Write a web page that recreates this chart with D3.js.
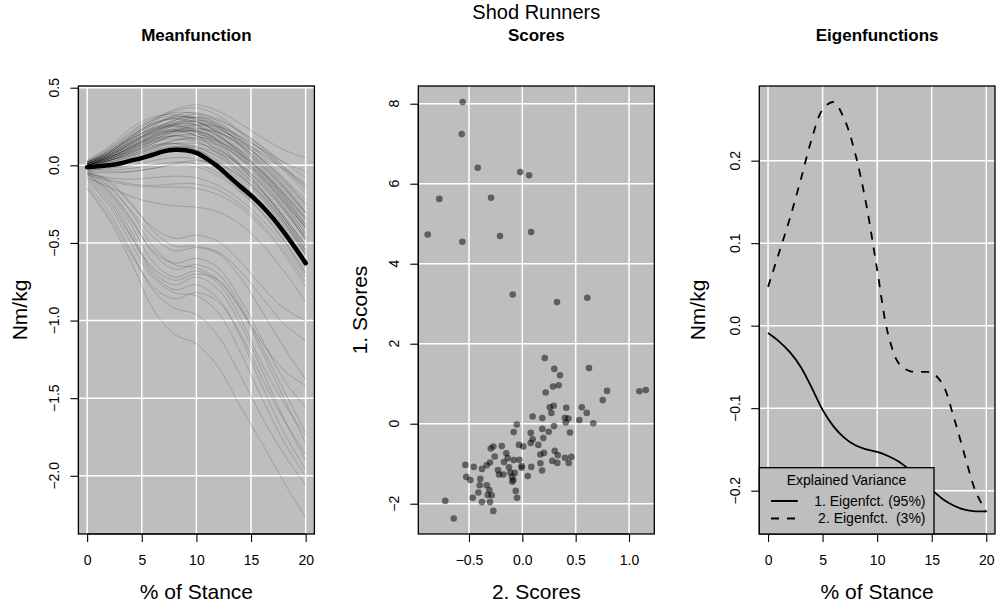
<!DOCTYPE html>
<html><head><meta charset="utf-8">
<script src="https://cdn.jsdelivr.net/npm/d3@7"></script>
<style>
body{margin:0;background:#fff}
svg{display:block}
text{font-family:"Liberation Sans",Arial,Helvetica,sans-serif;fill:#000}
</style>
</head><body>
<svg id="c" width="996" height="609"></svg>
<script>
// ---------------- DATA ----------------
const stanceGrid = [0,2,4,6,8,10,12,14,16,18,20];
const runnerCurves = [
 [0.02,0.10,0.20,0.29,0.36,0.39,0.35,0.27,0.18,0.10,0.05],
 [0.01,0.08,0.18,0.28,0.35,0.37,0.32,0.22,0.12,0.02,-0.08],
 [0.03,0.12,0.24,0.31,0.33,0.30,0.24,0.16,0.08,-0.02,-0.12],
 [0.00,0.06,0.14,0.22,0.29,0.33,0.30,0.21,0.10,-0.03,-0.18],
 [0.01,0.07,0.16,0.25,0.32,0.34,0.28,0.17,0.04,-0.10,-0.26],
 [0.02,0.09,0.19,0.27,0.31,0.30,0.25,0.18,0.10,0.02,-0.04],
 [0.00,0.05,0.12,0.20,0.27,0.31,0.29,0.22,0.12,-0.01,-0.16],
 [-0.01,0.04,0.11,0.19,0.26,0.29,0.26,0.16,0.03,-0.13,-0.30],
 [0.01,0.08,0.17,0.24,0.28,0.28,0.22,0.12,0.00,-0.14,-0.30],
 [0.02,0.09,0.18,0.26,0.30,0.28,0.21,0.10,-0.03,-0.18,-0.34],
 [0.00,0.06,0.13,0.21,0.27,0.28,0.24,0.15,0.04,-0.10,-0.25],
 [0.01,0.07,0.15,0.22,0.26,0.25,0.19,0.09,-0.04,-0.19,-0.36],
 [-0.01,0.03,0.09,0.16,0.22,0.26,0.25,0.19,0.10,-0.01,-0.13],
 [0.00,0.05,0.12,0.19,0.24,0.26,0.22,0.13,0.01,-0.14,-0.31],
 [0.02,0.10,0.21,0.29,0.32,0.29,0.20,0.07,-0.08,-0.24,-0.40],
 [0.01,0.06,0.14,0.21,0.25,0.23,0.16,0.05,-0.08,-0.23,-0.40],
 [0.00,0.04,0.10,0.17,0.22,0.24,0.21,0.13,0.02,-0.12,-0.28],
 [0.01,0.07,0.16,0.23,0.27,0.26,0.19,0.08,-0.06,-0.22,-0.42],
 [0.00,0.05,0.11,0.18,0.23,0.24,0.19,0.09,-0.04,-0.20,-0.38],
 [-0.01,0.03,0.08,0.14,0.20,0.23,0.21,0.14,0.04,-0.09,-0.24],
 [0.01,0.06,0.13,0.19,0.23,0.22,0.16,0.06,-0.07,-0.24,-0.44],
 [0.02,0.08,0.17,0.24,0.26,0.22,0.13,0.01,-0.13,-0.29,-0.47],
 [0.00,0.04,0.10,0.16,0.21,0.22,0.18,0.10,-0.01,-0.16,-0.33],
 [0.00,0.05,0.12,0.18,0.22,0.21,0.15,0.04,-0.10,-0.27,-0.46],
 [0.01,0.06,0.14,0.20,0.22,0.19,0.11,0.00,-0.13,-0.29,-0.48],
 [-0.01,0.03,0.08,0.14,0.19,0.20,0.16,0.07,-0.05,-0.20,-0.38],
 [0.00,0.04,0.09,0.15,0.19,0.19,0.14,0.04,-0.09,-0.25,-0.44],
 [0.01,0.05,0.11,0.16,0.19,0.17,0.10,-0.01,-0.15,-0.32,-0.52],
 [0.02,0.07,0.15,0.21,0.23,0.19,0.09,-0.04,-0.19,-0.36,-0.55],
 [0.00,0.03,0.07,0.12,0.16,0.17,0.13,0.05,-0.07,-0.22,-0.40],
 [-0.01,0.02,0.06,0.11,0.16,0.18,0.15,0.07,-0.04,-0.18,-0.34],
 [0.00,0.04,0.10,0.15,0.17,0.15,0.08,-0.03,-0.17,-0.34,-0.54],
 [0.01,0.05,0.12,0.17,0.19,0.16,0.07,-0.06,-0.21,-0.38,-0.58],
 [0.00,0.03,0.07,0.11,0.14,0.14,0.10,0.01,-0.11,-0.27,-0.46],
 [-0.01,0.02,0.05,0.09,0.12,0.12,0.08,0.00,-0.12,-0.28,-0.48],
 [0.00,0.03,0.08,0.12,0.14,0.12,0.05,-0.06,-0.20,-0.37,-0.57],
 [0.01,0.04,0.09,0.13,0.14,0.10,0.02,-0.10,-0.25,-0.43,-0.63],
 [0.02,0.09,0.19,0.27,0.30,0.26,0.15,0.00,-0.16,-0.34,-0.52],
 [0.01,0.08,0.18,0.26,0.31,0.31,0.25,0.13,-0.02,-0.18,-0.35],
 [0.00,0.06,0.14,0.23,0.29,0.31,0.27,0.18,0.06,-0.08,-0.22],
 [0.03,0.11,0.22,0.30,0.34,0.33,0.26,0.14,0.00,-0.15,-0.31],
 [0.01,0.07,0.15,0.22,0.26,0.27,0.23,0.16,0.07,-0.03,-0.14],
 [0.00,0.05,0.11,0.18,0.22,0.22,0.17,0.08,-0.05,-0.21,-0.39],
 [0.02,0.08,0.17,0.23,0.25,0.21,0.12,-0.01,-0.16,-0.33,-0.51],
 [-0.02,0.01,0.04,0.08,0.11,0.11,0.06,-0.04,-0.17,-0.34,-0.55],
 [0.00,0.03,0.06,0.10,0.12,0.10,0.03,-0.08,-0.22,-0.40,-0.62],
 [-0.03,-0.02,0.00,0.03,0.05,0.04,-0.02,-0.12,-0.26,-0.44,-0.66],
 [-0.04,-0.05,-0.04,-0.02,0.00,-0.01,-0.07,-0.17,-0.31,-0.49,-0.70],
 [-0.05,-0.08,-0.09,-0.08,-0.07,-0.08,-0.13,-0.22,-0.35,-0.52,-0.72],
 [-0.06,-0.10,-0.13,-0.14,-0.14,-0.15,-0.19,-0.27,-0.40,-0.57,-0.78],
 [-0.02,-0.03,-0.02,0.00,0.02,0.01,-0.05,-0.16,-0.30,-0.48,-0.69],
 [-0.05,-0.09,-0.12,-0.13,-0.12,-0.12,-0.16,-0.25,-0.38,-0.55,-0.75],
 [-0.03,-0.04,-0.04,-0.02,0.01,0.03,0.01,-0.07,-0.19,-0.36,-0.57],
 [-0.08,-0.14,-0.20,-0.24,-0.26,-0.27,-0.30,-0.38,-0.51,-0.68,-0.88],
 [-0.15,-0.35,-0.62,-0.92,-1.09,-1.15,-1.30,-1.55,-1.79,-2.04,-2.27],
 [-0.12,-0.30,-0.55,-0.80,-0.92,-0.96,-1.10,-1.35,-1.62,-1.86,-2.06],
 [-0.10,-0.26,-0.50,-0.72,-0.82,-0.84,-0.95,-1.20,-1.50,-1.78,-2.00],
 [-0.08,-0.22,-0.45,-0.70,-0.80,-0.77,-0.86,-1.10,-1.42,-1.72,-1.96],
 [-0.07,-0.20,-0.42,-0.68,-0.77,-0.72,-0.80,-1.02,-1.32,-1.63,-1.90],
 [-0.14,-0.33,-0.57,-0.78,-0.86,-0.82,-0.88,-1.08,-1.37,-1.64,-1.86],
 [-0.06,-0.18,-0.38,-0.62,-0.72,-0.68,-0.76,-0.98,-1.28,-1.53,-1.74],
 [-0.09,-0.24,-0.46,-0.66,-0.74,-0.70,-0.74,-0.92,-1.20,-1.50,-1.79],
 [-0.05,-0.16,-0.34,-0.56,-0.67,-0.64,-0.70,-0.90,-1.17,-1.45,-1.72],
 [-0.06,-0.17,-0.35,-0.55,-0.63,-0.60,-0.66,-0.86,-1.12,-1.38,-1.56],
 [-0.04,-0.13,-0.30,-0.52,-0.64,-0.66,-0.74,-0.92,-1.14,-1.32,-1.42],
 [-0.05,-0.14,-0.29,-0.46,-0.55,-0.53,-0.57,-0.72,-0.94,-1.17,-1.38],
 [-0.03,-0.10,-0.24,-0.42,-0.52,-0.52,-0.56,-0.68,-0.85,-1.02,-1.13],
 [-0.04,-0.11,-0.25,-0.40,-0.47,-0.45,-0.49,-0.62,-0.78,-0.92,-1.00]
];
const fineGrid = [0,1,2,3,4,5,6,7,8,9,10,11,12,13,14,15,16,17,18,19,20];
const meanFunction = [-0.012,-0.006,0.000,0.012,0.030,0.046,0.068,0.090,0.100,0.097,0.080,0.040,-0.010,-0.073,-0.135,-0.195,-0.262,-0.340,-0.430,-0.527,-0.630];
const eigenfunction1 = [-0.009,-0.019,-0.032,-0.050,-0.075,-0.102,-0.122,-0.136,-0.145,-0.150,-0.153,-0.158,-0.165,-0.175,-0.187,-0.199,-0.210,-0.218,-0.223,-0.225,-0.225];
const eigenfunction2 = [0.047,0.088,0.130,0.177,0.226,0.262,0.271,0.250,0.208,0.147,0.068,-0.010,-0.046,-0.055,-0.056,-0.057,-0.071,-0.110,-0.156,-0.200,-0.226];
const scores2 = [-0.559,-0.568,-0.418,-0.019,0.063,-0.778,-0.293,-0.887,-0.562,-0.209,0.082,-0.090,0.609,0.325,
 0.210,0.625,0.300,0.353,0.288,0.341,0.794,1.097,1.157,0.219,0.754,0.294,0.257,0.412,0.557,0.272,0.604,0.097,0.187,0.400,0.431,0.407,0.534,0.665,0.187,0.297,0.447,0.400,0.459,0.435,-0.052,
 -0.081,0.079,0.197,0.247,0.097,0.079,0.150,-0.031,0.009,-0.272,-0.296,-0.193,0.203,0.169,0.304,0.332,0.281,0.328,-0.150,-0.259,-0.137,-0.081,-0.028,-0.172,-0.303,-0.334,-0.534,-0.455,-0.378,-0.228,-0.125,-0.006,-0.006,0.084,0.169,0.185,-0.112,-0.071,-0.218,-0.178,-0.097,-0.084,-0.094,0.051,-0.525,-0.487,-0.394,-0.399,-0.334,-0.309,-0.287,-0.324,-0.412,-0.465,-0.378,-0.303,-0.062,-0.050,-0.722,-0.643,-0.272];
const scores1 = [8.04,7.24,6.40,6.29,6.21,5.62,5.65,4.73,4.55,4.69,4.79,3.23,3.15,3.04,
 1.64,1.39,1.37,1.21,0.93,0.96,0.82,0.81,0.84,0.78,0.59,0.45,0.41,0.40,0.41,0.27,0.27,0.18,0.14,0.15,0.13,0.03,0.09,0.01,-0.13,-0.06,-0.22,-0.85,-0.83,-0.98,-0.02,
 -0.21,-0.23,-0.36,-0.20,-0.39,-0.48,-0.53,-0.53,-0.57,-0.57,-0.62,-0.56,-0.73,-0.77,-0.68,-0.79,-0.93,-0.98,-0.74,-0.82,-0.86,-0.91,-0.90,-0.96,-0.97,-1.04,-1.03,-1.08,-1.13,-1.16,-1.09,-1.06,-1.10,-1.08,-0.99,-1.17,-1.22,-1.23,-1.27,-1.27,-1.33,-1.41,-1.45,-1.31,-1.33,-1.41,-1.38,-1.54,-1.54,-1.66,-1.79,-1.78,-1.72,-1.85,-1.96,-1.96,-1.68,-1.85,-1.93,-2.37,-2.18];
const stanceTicks = [0,5,10,15,20];
const meanTicksY = [0.5,0.0,-0.5,-1.0,-1.5,-2.0];
const scoreTicksX = [-0.5,0.0,0.5,1.0];
const scoreTicksY = [-2,0,2,4,6,8];
const eigenTicksY = [-0.2,-0.1,0.0,0.1,0.2];
const legendTitle = "Explained Variance";
const legendLabels = ["1. Eigenfct. (95%)","2. Eigenfct.  (3%)"];

// ---------------- DRAW ----------------
const svg = d3.select("#c");
const BG = "#bebebe";

function panel(o){
  const g = svg.append("g");
  const x = d3.scaleLinear().domain(o.xd).range([o.l,o.r]);
  const y = d3.scaleLinear().domain(o.yd).range([o.b,o.t]);
  g.append("clipPath").attr("id","clip"+o.id).append("rect")
    .attr("x",o.l).attr("y",o.t).attr("width",o.r-o.l).attr("height",o.b-o.t);
  g.append("rect").attr("x",o.l).attr("y",o.t).attr("width",o.r-o.l).attr("height",o.b-o.t).attr("fill",BG);
  g.selectAll(null).data(o.xt).join("line")
    .attr("x1",d=>x(d)).attr("x2",d=>x(d)).attr("y1",o.t).attr("y2",o.b)
    .attr("stroke","#fff").attr("stroke-width",1.5);
  g.selectAll(null).data(o.yt).join("line")
    .attr("y1",d=>y(d)).attr("y2",d=>y(d)).attr("x1",o.l).attr("x2",o.r)
    .attr("stroke","#fff").attr("stroke-width",1.5);
  const plot = g.append("g").attr("clip-path",`url(#clip${o.id})`);
  const front = g.append("g");
  front.append("rect").attr("x",o.l).attr("y",o.t).attr("width",o.r-o.l).attr("height",o.b-o.t)
    .attr("fill","none").attr("stroke","#000").attr("stroke-width",1.3);
  const ax = front.append("g").attr("transform",`translate(0,${o.b})`)
    .call(d3.axisBottom(x).tickValues(o.xt).tickFormat(o.xf).tickSize(8).tickPadding(13.5));
  ax.select(".domain").remove();
  ax.selectAll("line").attr("stroke","#000").attr("stroke-width",1.1);
  ax.selectAll("text").attr("font-size",14).attr("font-family",null);
  ax.append("line").attr("x1",x(o.xt[0])).attr("x2",x(o.xt[o.xt.length-1])).attr("stroke","#000").attr("stroke-width",1.1);
  const ay = front.append("g").attr("transform",`translate(${o.l},0)`)
    .call(d3.axisLeft(y).tickValues(o.yt).tickFormat("").tickSize(8));
  ay.select(".domain").remove();
  ay.selectAll("line").attr("stroke","#000").attr("stroke-width",1.1);
  ay.append("line").attr("y1",y(d3.min(o.yt))).attr("y2",y(d3.max(o.yt))).attr("stroke","#000").attr("stroke-width",1.1);
  front.selectAll(null).data(o.yt).join("text")
    .attr("transform",d=>`translate(${o.l-19.5},${y(d)}) rotate(-90)`)
    .attr("text-anchor","middle").attr("font-size",14).text(o.yf);
  front.append("text").attr("x",(o.l+o.r)/2).attr("y",40.7).attr("text-anchor","middle")
    .attr("font-size",17).attr("font-weight","bold").text(o.title);
  front.append("text").attr("x",(o.l+o.r)/2).attr("y",599).attr("text-anchor","middle")
    .attr("font-size",21).text(o.xlab);
  front.append("text").attr("transform",`translate(${o.ylx},${(o.t+o.b)/2}) rotate(-90)`)
    .attr("text-anchor","middle").attr("font-size",21).text(o.ylab);
  return {x,y,plot,front};
}

// Panel 1: mean function
const p1 = panel({id:1,l:78.4,r:314.4,t:86,b:534,xd:[-0.8,20.8],yd:[-2.375,0.511],
  xt:stanceTicks,yt:meanTicksY,xf:d3.format("d"),yf:d3.format(".1f"),
  title:"Meanfunction",xlab:"% of Stance",ylab:"Nm/kg",ylx:27});
const line1 = d3.line().x((d,i)=>p1.x(stanceGrid[i])).y(d=>p1.y(d)).curve(d3.curveCatmullRom);
p1.plot.selectAll(null).data(runnerCurves).join("path")
  .attr("d",line1).attr("fill","none").attr("stroke","#000").attr("stroke-opacity",0.17).attr("stroke-width",1);
p1.plot.append("path").datum(meanFunction)
  .attr("d",d3.line().x((d,i)=>p1.x(fineGrid[i])).y(d=>p1.y(d)).curve(d3.curveCatmullRom))
  .attr("fill","none").attr("stroke","#000").attr("stroke-width",4.5).attr("stroke-linecap","round");

// Panel 2: scores
const p2 = panel({id:2,l:418.3,r:654.3,t:86,b:534,xd:[-0.975,1.237],yd:[-2.757,8.443],
  xt:scoreTicksX,yt:scoreTicksY,xf:d3.format(".1f"),yf:d3.format("d"),
  title:"Scores",xlab:"2. Scores",ylab:"1. Scores",ylx:366.7});
p2.plot.selectAll(null).data(scores1).join("circle")
  .attr("cx",(d,i)=>p2.x(scores2[i])).attr("cy",d=>p2.y(d)).attr("r",3.3)
  .attr("fill","#000").attr("fill-opacity",0.5);
svg.append("text").attr("x",536.3).attr("y",18.5).attr("text-anchor","middle")
  .attr("font-size",20).text("Shod Runners");

// Panel 3: eigenfunctions
const p3 = panel({id:3,l:759.3,r:995,t:86,b:534,xd:[-0.8,20.8],yd:[-0.2525,0.2905],
  xt:stanceTicks,yt:eigenTicksY,xf:d3.format("d"),yf:d3.format(".1f"),
  title:"Eigenfunctions",xlab:"% of Stance",ylab:"Nm/kg",ylx:704.5});
const line3 = d3.line().x((d,i)=>p3.x(fineGrid[i])).y(d=>p3.y(d)).curve(d3.curveCatmullRom);
p3.plot.append("path").datum(eigenfunction1).attr("d",line3)
  .attr("fill","none").attr("stroke","#000").attr("stroke-width",1.8);
p3.plot.append("path").datum(eigenfunction2).attr("d",line3)
  .attr("fill","none").attr("stroke","#000").attr("stroke-width",1.8).attr("stroke-dasharray","8,8");

// legend
const lg = p3.front.append("g");
lg.append("rect").attr("x",759.3).attr("y",467.7).attr("width",174.7).attr("height",66.3)
  .attr("fill",BG).attr("stroke","#000").attr("stroke-width",1.3);
lg.append("text").attr("x",846.5).attr("y",485).attr("text-anchor","middle").attr("font-size",14).text(legendTitle);
const dashes = [null,"8,8"];
legendLabels.forEach((lab,i)=>{
  const yy = 501 + i*17.5;
  lg.append("line").attr("x1",771).attr("x2",797.7).attr("y1",yy).attr("y2",yy)
    .attr("stroke","#000").attr("stroke-width",2).attr("stroke-dasharray",dashes[i]);
  lg.append("text").attr("x",925.5).attr("y",yy+4.5).attr("text-anchor","end").attr("font-size",14)
    .attr("xml:space","preserve").style("white-space","pre").text(lab);
});
</script>
</body></html>
